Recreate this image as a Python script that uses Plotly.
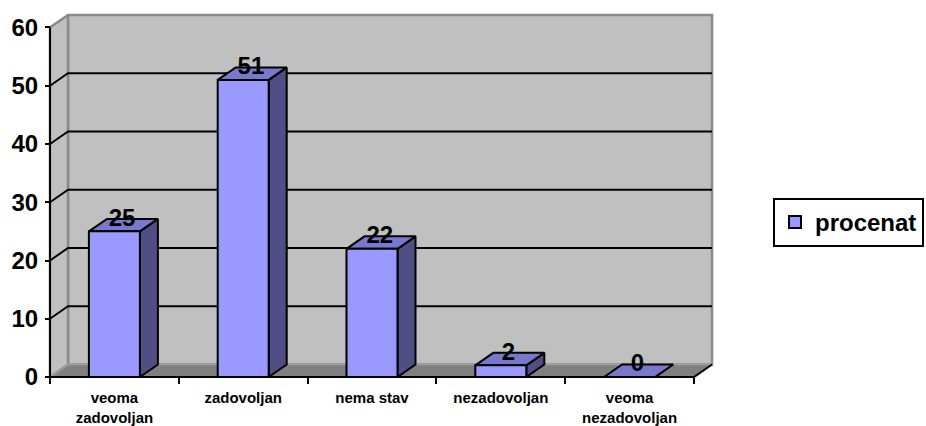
import plotly.graph_objects as go

# ---- data -------------------------------------------------------------
categories = ["veoma<br>zadovoljan", "zadovoljan", "nema stav",
              "nezadovoljan", "veoma<br>nezadovoljan"]
values = [25, 51, 22, 2, 0]
y_ticks = [0, 10, 20, 30, 40, 50, 60]
series_name = "procenat"

# ---- pseudo-3D geometry (in axis units) -------------------------------
W, H = 926, 426
PX_X = 128.8            # pixels per category
PX_Y = 350 / 60         # pixels per value unit
DEPTH_PX = (18, 12.5)   # receding offset of the back plane
DX = DEPTH_PX[0] / PX_X
DY = DEPTH_PX[1] / PX_Y
HALF = 0.198            # half bar width (category units)
YMAX = y_ticks[-1]
PAD = 6                 # room around the drawing so edge lines aren't clipped

n = len(values)
x0, x1 = -0.5, n - 0.5

plot_w = (x1 + DX - x0) * PX_X + 2 * PAD
plot_h = (YMAX + DY) * PX_Y + 2 * PAD
left = 50 - PAD
top = 377 - YMAX * PX_Y - DEPTH_PX[1] - PAD
bottom = H - 377 - PAD
right = W - left - plot_w

FONT = "Liberation Sans, Arial, sans-serif"

WALL = "#c0c0c0"
WALL_EDGE = "#8a8a8a"
FLOOR = "#808080"
FRONT = "#9999ff"
TOP = "#7878cc"
SIDE = "#4f4f85"


def poly(pts):
    xs = [p[0] for p in pts] + [pts[0][0]]
    ys = [p[1] for p in pts] + [pts[0][1]]
    return xs, ys


def shape_trace(polys, fill, line_color, line_w):
    xs, ys = [], []
    for pts in polys:
        px, py = poly(pts)
        xs += px + [None]
        ys += py + [None]
    return go.Scatter(x=xs, y=ys, mode="lines", fill="toself", fillcolor=fill,
                      line=dict(color=line_color, width=line_w),
                      hoverinfo="skip", showlegend=False)


def line_trace(xs, ys, color, width):
    return go.Scatter(x=xs, y=ys, mode="lines", line=dict(color=color, width=width),
                      hoverinfo="skip", showlegend=False)


fig = go.Figure()

# walls and floor
fig.add_trace(shape_trace([[(x0 + DX, DY), (x1 + DX, DY), (x1 + DX, YMAX + DY), (x0 + DX, YMAX + DY)]],
                          WALL, WALL_EDGE, 2.5))
fig.add_trace(shape_trace([[(x0, 0), (x0, YMAX), (x0 + DX, YMAX + DY), (x0 + DX, DY)]],
                          WALL, WALL_EDGE, 2.5))
fig.add_trace(shape_trace([[(x0, 0), (x1, 0), (x1 + DX, DY), (x0 + DX, DY)]],
                          FLOOR, "#a0a0a0", 1.5))

# gridlines across side and back walls
gx, gy = [], []
for g in y_ticks[1:-1]:
    gx += [x0, x0 + DX, x1 + DX, None]
    gy += [g, g + DY, g + DY, None]
fig.add_trace(line_trace(gx, gy, "black", 2))

# bars: front, top and side faces
fronts, tops, sides = [], [], []
for i, v in enumerate(values):
    a, b = i - HALF, i + HALF
    fronts.append([(a, 0), (b, 0), (b, v), (a, v)])
    tops.append([(a, v), (b, v), (b + DX, v + DY), (a + DX, v + DY)])
    sides.append([(b, 0), (b + DX, DY), (b + DX, v + DY), (b, v)])
fig.add_trace(shape_trace(sides, SIDE, "black", 2))
fig.add_trace(shape_trace(tops, TOP, "black", 2))
fig.add_trace(shape_trace(fronts, FRONT, "black", 2))

# front axis lines
fig.add_trace(line_trace([x0, x0], [0, YMAX], "black", 2))
fig.add_trace(line_trace([x0, x1, x1 + DX], [0, 0, DY], "black", 2))

# value labels
fig.add_trace(go.Scatter(
    x=[i + 0.06 for i in range(n)], y=[v + 2.0 for v in values],
    mode="text", text=[str(v) for v in values], textposition="middle center",
    textfont=dict(family=FONT, size=24, color="black", weight="bold"),
    hoverinfo="skip", showlegend=False, cliponaxis=False))

# legend entry
fig.add_trace(go.Scatter(
    x=[None], y=[None], mode="markers", name=series_name,
    marker=dict(symbol="square", size=16, color=FRONT, line=dict(color="black", width=2))))

fig.update_layout(
    width=W, height=H,
    margin=dict(l=left, r=right, t=top, b=bottom, pad=0, autoexpand=False),
    paper_bgcolor="white", plot_bgcolor="white",
    showlegend=True,
    legend=dict(xref="container", yref="container",
                x=773 / W, y=1 - 198 / H, xanchor="left", yanchor="top",
                bordercolor="black", borderwidth=2, bgcolor="white",
                font=dict(family=FONT, size=24, color="black", weight="bold"),
                itemsizing="constant", tracegroupgap=0,
                entrywidth=170, entrywidthmode="pixels"),
    xaxis=dict(
        range=[x0 - PAD / PX_X, x1 + DX + PAD / PX_X],
        anchor="free", position=PAD / plot_h, automargin=False,
        tickmode="array", tickvals=list(range(n)), ticktext=categories,
        ticks="", showline=False, showgrid=False, zeroline=False,
        tickfont=dict(family=FONT, size=15, color="black", weight="bold"),
        ticklabelstandoff=10,
        minor=dict(tickmode="array", tickvals=[i - 0.5 for i in range(n + 1)],
                   ticks="outside", ticklen=6, tickwidth=2, tickcolor="black",
                   showgrid=False),
    ),
    yaxis=dict(
        range=[-PAD / PX_Y, YMAX + DY + PAD / PX_Y],
        anchor="free", position=PAD / plot_w, automargin=False,
        tickmode="array", tickvals=y_ticks,
        ticks="outside", ticklen=5, tickwidth=2, tickcolor="black",
        showline=False, showgrid=False, zeroline=False,
        tickfont=dict(family=FONT, size=24, color="black", weight="bold"),
        ticklabelstandoff=2,
    ),
)

fig.write_html("out.html")
